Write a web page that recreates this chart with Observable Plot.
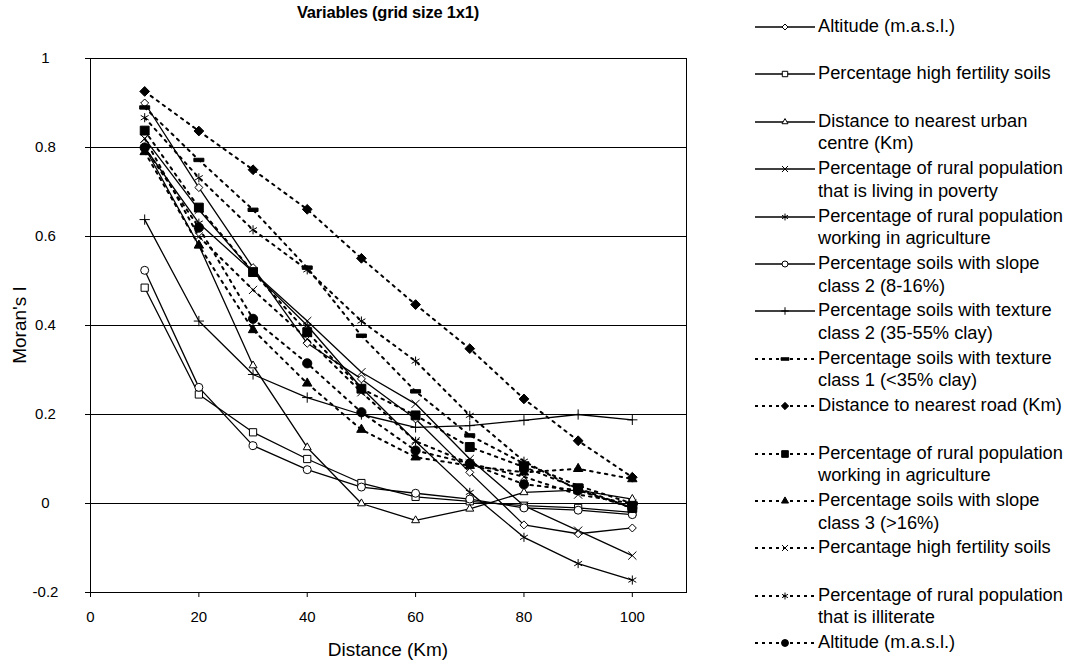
<!DOCTYPE html>
<html><head><meta charset="utf-8">
<script src="https://cdn.jsdelivr.net/npm/d3@7"></script>
<script src="https://cdn.jsdelivr.net/npm/@observablehq/plot@0.6"></script>
<style>
body{margin:0;background:#fff;font-family:"Liberation Sans",Arial,sans-serif;}
#wrap{position:relative;width:1069px;height:664px;overflow:hidden;background:#fff;}
#wrap svg.plot{position:absolute;left:0;top:0;}
.title{position:absolute;top:3px;left:188px;width:400px;text-align:center;font-weight:bold;font-size:16.5px;letter-spacing:-0.2px;}
.xlab{position:absolute;top:639px;left:188px;width:400px;text-align:center;font-size:19px;}
.ylab{position:absolute;left:-35px;top:314px;width:110px;text-align:center;font-size:19px;transform:rotate(-90deg);}
.leg{position:absolute;left:753px;font-size:18.3px;line-height:22.5px;}
.leg svg{position:absolute;left:0;top:2px;}
.leg div{position:absolute;left:65px;top:0;white-space:nowrap;}
</style></head><body><div id="wrap"></div>
<script>
// ---- data ----
const distances = [10, 20, 30, 40, 50, 60, 70, 80, 90, 100];
const yTicks = [-0.2, 0, 0.2, 0.4, 0.6, 0.8, 1];
const xTicks = [0, 20, 40, 60, 80, 100];

// solid-line series
const altitudeSolid      = [0.90, 0.71, 0.53, 0.36, 0.28, 0.19, 0.07, -0.048, -0.068, -0.055];
const highFertSolid      = [0.485, 0.245, 0.16, 0.10, 0.046, 0.015, 0.005, -0.005, -0.01, -0.02];
const urbanSolid         = [0.80, 0.58, 0.31, 0.126, 0.0, -0.038, -0.012, 0.025, 0.03, 0.01];
const povertySolid       = [0.82, 0.66, 0.52, 0.41, 0.295, 0.224, 0.10, -0.005, -0.061, -0.117];
const agricultureSolid   = [0.80, 0.63, 0.52, 0.40, 0.26, 0.14, 0.025, -0.076, -0.135, -0.172];
const slope2Solid        = [0.524, 0.261, 0.13, 0.076, 0.037, 0.023, 0.01, -0.01, -0.015, -0.025];
const texture2Solid      = [0.638, 0.41, 0.29, 0.238, 0.20, 0.171, 0.175, 0.187, 0.20, 0.188];
// dashed-line series
const texture1Dashed     = [0.89, 0.772, 0.66, 0.53, 0.377, 0.252, 0.153, 0.09, 0.04, 0.0];
const roadDashed         = [0.926, 0.837, 0.75, 0.661, 0.551, 0.447, 0.348, 0.235, 0.141, 0.059];
const agricultureDashed  = [0.838, 0.665, 0.52, 0.385, 0.258, 0.198, 0.127, 0.082, 0.034, -0.01];
const slope3Dashed       = [0.79, 0.58, 0.39, 0.27, 0.166, 0.104, 0.085, 0.07, 0.078, 0.055];
const highFertDashed     = [0.82, 0.60, 0.48, 0.37, 0.25, 0.14, 0.09, 0.06, 0.02, 0.0];
const illiterateDashed   = [0.867, 0.732, 0.615, 0.525, 0.41, 0.32, 0.198, 0.095, 0.03, -0.01];
const altitudeDashed     = [0.80, 0.62, 0.415, 0.315, 0.205, 0.119, 0.09, 0.043, 0.03, -0.01];

const seriesLabels = [
  "Altitude (m.a.s.l.)",
  "Percentage high fertility soils",
  "Distance to nearest urban\ncentre (Km)",
  "Percentage of rural population\nthat is living in poverty",
  "Percentage of rural population\nworking in agriculture",
  "Percentage soils with slope\nclass 2 (8-16%)",
  "Percentage soils with texture\nclass 2 (35-55% clay)",
  "Percentage soils with texture\nclass 1 (<35% clay)",
  "Distance to nearest road (Km)",
  "Percentage of rural population\nworking in agriculture",
  "Percentage soils with slope\nclass 3 (>16%)",
  "Percantage high fertility soils",
  "Percentage of rural population\nthat is illiterate",
  "Altitude (m.a.s.l.)"
];
const seriesValues = [altitudeSolid, highFertSolid, urbanSolid, povertySolid, agricultureSolid,
  slope2Solid, texture2Solid, texture1Dashed, roadDashed, agricultureDashed, slope3Dashed,
  highFertDashed, illiterateDashed, altitudeDashed];

// ---- styles ----
const dashSymbol = {draw(ctx) { const w = 5, h = 1.7; ctx.moveTo(-w,-h); ctx.lineTo(w,-h); ctx.lineTo(w,h); ctx.lineTo(-w,h); ctx.closePath(); }};
const styles = [
  {sym: "diamond2", r: 3.6, filled: false, dashed: false},
  {sym: "square2", r: 4.6, filled: false, dashed: false},
  {sym: "triangle2", r: 3.8, filled: false, dashed: false},
  {sym: "times", r: 3.8, filled: false, dashed: false},
  {sym: "asterisk", r: 4.3, filled: false, dashed: false},
  {sym: "circle", r: 4, filled: false, dashed: false},
  {sym: "plus", r: 3.4, filled: false, dashed: false},
  {sym: dashSymbol, r: 4, filled: true, dashed: true},
  {sym: "diamond2", r: 4.4, filled: true, dashed: true},
  {sym: "square", r: 5, filled: true, dashed: true},
  {sym: "triangle", r: 3.5, filled: true, dashed: true},
  {sym: "times", r: 3.8, filled: true, dashed: true},
  {sym: "asterisk", r: 4.3, filled: true, dashed: true},
  {sym: "circle", r: 4.6, filled: true, dashed: true}
];

const rows = [];
seriesValues.forEach((vals, i) => vals.forEach((v, j) => rows.push({series: i, x: distances[j], y: v})));
const solidRows = rows.filter(d => !styles[d.series].dashed);
const dashedRows = rows.filter(d => styles[d.series].dashed);

const marks = [
  Plot.gridY(yTicks, {stroke: "black", strokeOpacity: 1, strokeWidth: 1}),
  Plot.frame({stroke: "black", strokeWidth: 1}),
  Plot.axisX({ticks: xTicks, tickSize: 5, tickPadding: 14, fontSize: 15, label: null}),
  Plot.axisY({ticks: yTicks, tickSize: 5, tickPadding: 40, textAnchor: "middle", fontSize: 15, label: null, tickFormat: d => String(d)}),
  Plot.line(solidRows, {x: "x", y: "y", z: "series", stroke: "black", strokeWidth: 1.3}),
  Plot.line(dashedRows, {x: "x", y: "y", z: "series", stroke: "black", strokeWidth: 2, strokeDasharray: "2.5,5"})
];
styles.forEach((s, i) => {
  marks.push(Plot.dot(rows.filter(d => d.series === i), {
    x: "x", y: "y", symbol: s.sym, r: s.r,
    fill: s.filled ? "black" : "white", stroke: "black", strokeWidth: 1
  }));
});

const chart = Plot.plot({
  width: 700, height: 664,
  marginLeft: 90, marginRight: 14, marginTop: 58, marginBottom: 72,
  x: {domain: [0, 110]},
  y: {domain: [-0.2, 1]},
  style: {fontFamily: "'Liberation Sans', Arial, sans-serif", color: "black", background: "transparent"},
  marks
});
chart.classList.add("plot");
const wrap = document.getElementById("wrap");
wrap.appendChild(chart);

function addDiv(cls, text) { const d = document.createElement("div"); d.className = cls; d.textContent = text; wrap.appendChild(d); return d; }
addDiv("title", "Variables (grid size 1x1)");
addDiv("xlab", "Distance (Km)");
addDiv("ylab", "Moran's I");

// ---- legend ----
const symMap = {diamond2: d3.symbolDiamond2, square2: d3.symbolSquare2, triangle2: d3.symbolTriangle2, times: d3.symbolTimes,
  asterisk: d3.symbolAsterisk, circle: d3.symbolCircle, plus: d3.symbolPlus, square: d3.symbolSquare, triangle: d3.symbolTriangle};
seriesLabels.forEach((lab, i) => {
  const s = styles[i];
  const item = document.createElement("div");
  item.className = "leg";
  item.style.top = (15 + i * 47.4) + "px";
  const svg = d3.create("svg").attr("width", 64).attr("height", 20);
  svg.append("line").attr("x1", 2).attr("x2", 62).attr("y1", 10).attr("y2", 10)
    .attr("stroke", "black").attr("stroke-width", s.dashed ? 2 : 1.3)
    .attr("stroke-dasharray", s.dashed ? "3,4" : null);
  const type = typeof s.sym === "string" ? symMap[s.sym] : s.sym;
  const rr = s.r * 0.75;
  svg.append("path").attr("transform", "translate(32,10)" + (typeof s.sym === "string" ? "" : " scale(0.8)"))
    .attr("d", d3.symbol(type, Math.PI * rr * rr)())
    .attr("fill", s.filled ? "black" : "white").attr("stroke", "black").attr("stroke-width", 1);
  item.appendChild(svg.node());
  const t = document.createElement("div");
  t.innerHTML = lab.split("\n").map(l => l.replace(/&/g,"&amp;").replace(/</g,"&lt;").replace(/>/g,"&gt;")).join("<br>");
  item.appendChild(t);
  wrap.appendChild(item);
});
</script></body></html>
